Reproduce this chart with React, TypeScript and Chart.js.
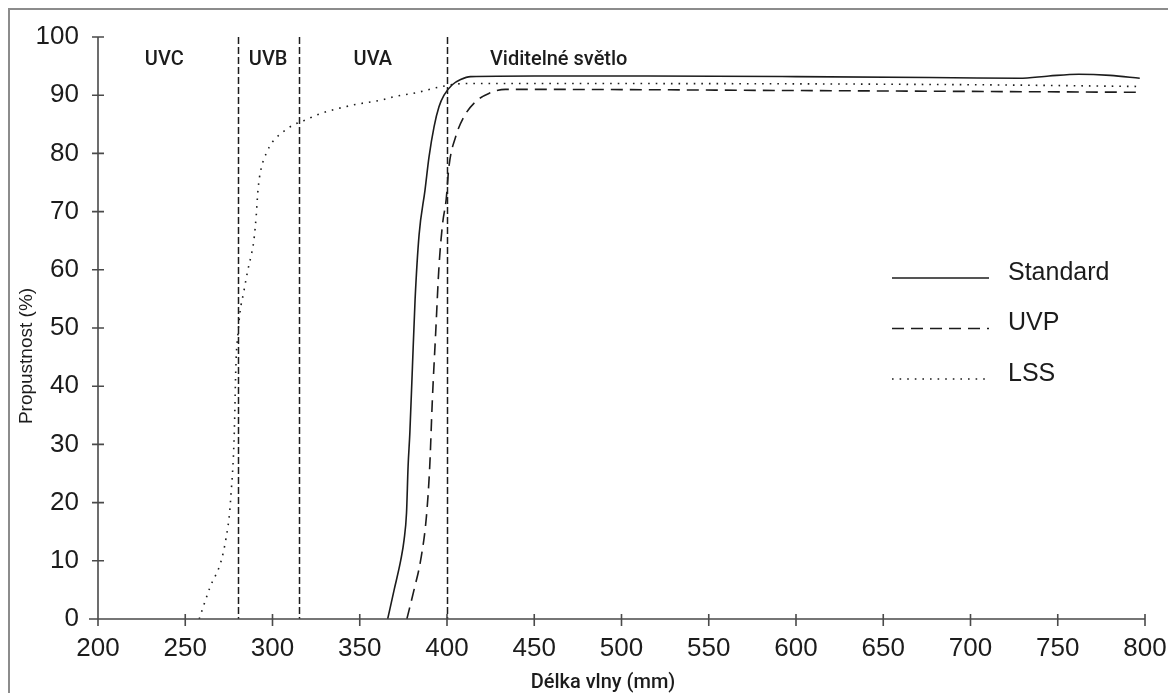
import React, { useEffect, useRef } from "react";
import { Chart, registerables } from "chart.js";

Chart.register(...registerables);

// ---- data ----
const standardNm = [366, 369.7, 373.5, 375.4, 376.8, 377.7, 378.7, 380.2, 381.7, 384, 387.4, 389.7, 392.6, 395.4, 398.3, 403, 407.8, 413.5, 450, 515, 600, 690, 728, 745, 762, 780, 797];
const standardPct = [0, 5, 10.1, 13.6, 18.2, 26.2, 31.9, 43.4, 54.8, 66, 73.7, 79.4, 84.6, 88, 90, 91.8, 92.7, 93.2, 93.3, 93.3, 93.2, 93.0, 92.9, 93.3, 93.6, 93.4, 92.9];

const uvpNm = [377, 381.1, 384.9, 388.2, 390.1, 391.6, 393.5, 395.4, 397.5, 399.5, 401.1, 405, 409.7, 416.4, 424, 433.5, 450, 600, 797];
const uvpPct = [0, 5, 10.1, 17.6, 26.2, 37.6, 49.1, 60.5, 68, 72, 77.7, 82.9, 86.3, 88.9, 90.3, 91, 91, 90.8, 90.5];

const lssNm = [258, 264, 270.7, 273.5, 275.4, 276.4, 277.3, 277.9, 278.3, 278.7, 279.2, 280.2, 281.5, 283.4, 285.9, 287.8, 289.3, 290.7, 291.6, 292.6, 293.5, 294.9, 296.4, 298.3, 301.1, 304.4, 307.8, 312, 315.8, 320.2, 324.4, 345.9, 363, 369, 382, 397, 410, 500, 700, 797];
const lssPct = [0, 5.3, 10.1, 14.1, 18.2, 22.2, 26.2, 30.2, 34.2, 39.9, 45, 49, 53, 56, 60, 62.5, 65, 69.4, 73.4, 76, 77.4, 78.9, 80, 81.2, 82.4, 83.3, 84.1, 84.9, 85.4, 85.9, 86.5, 88.3, 89.2, 89.7, 90.4, 91.5, 92, 92, 91.8, 91.5];

const seriesLabels = ["Standard", "UVP", "LSS"];

const bandBoundariesNm = [280, 315, 400];
const bandNames = ["UVC", "UVB", "UVA", "Viditelné světlo"];
const bandLabelNm = [238, 297.5, 357.5, 464];
const bandLabelPct = 96;

const xMin = 200;
const xMax = 800;
const xStep = 50;
const yMin = 0;
const yMax = 100;
const yStep = 10;

const xTitle = "Délka vlny (mm)";
const yTitle = "Propustnost (%)";

// ---- styles ----
const INK = "#1c1c1c";
const AXIS = "#4a4a4a";
const TICK_FONT = "'Liberation Sans', Arial, sans-serif";
const LABEL_FONT = "Roboto, 'Liberation Sans', Arial, sans-serif";
const TITLE_FONT = "'Liberation Sans', Arial, sans-serif";

const toPoints = (xs: number[], ys: number[]) => xs.map((x, i) => ({ x, y: ys[i] }));

const decorPlugin = {
  id: "decor",
  afterDatasetsDraw(chart: any) {
    const { ctx, chartArea: ca } = chart;
    const x = chart.scales.x;
    const y = chart.scales.y;
    ctx.save();

    // band boundaries
    ctx.strokeStyle = INK;
    ctx.lineWidth = 1.5;
    ctx.setLineDash([7, 3]);
    for (const b of bandBoundariesNm) {
      const px = Math.round(x.getPixelForValue(b)) + 0.5;
      ctx.beginPath();
      ctx.moveTo(px, y.getPixelForValue(yMax));
      ctx.lineTo(px, y.getPixelForValue(yMin));
      ctx.stroke();
    }
    ctx.setLineDash([]);

    // axes
    ctx.strokeStyle = AXIS;
    ctx.lineWidth = 1.6;
    ctx.beginPath();
    ctx.moveTo(ca.left, y.getPixelForValue(yMax));
    ctx.lineTo(ca.left, ca.bottom);
    ctx.moveTo(ca.left - 9, ca.bottom);
    ctx.lineTo(ca.right, ca.bottom);
    for (const t of x.ticks) {
      const px = x.getPixelForValue(t.value);
      ctx.moveTo(px, ca.bottom - 5);
      ctx.lineTo(px, ca.bottom + 7);
    }
    for (const t of y.ticks) {
      const py = y.getPixelForValue(t.value);
      ctx.moveTo(ca.left - 6, py);
      ctx.lineTo(ca.left + 6, py);
    }
    ctx.stroke();

    // band labels
    ctx.fillStyle = INK;
    ctx.font = `500 20px ${LABEL_FONT}`;
    ctx.textAlign = "center";
    ctx.textBaseline = "middle";
    bandNames.forEach((name, i) => {
      ctx.fillText(name, x.getPixelForValue(bandLabelNm[i]), y.getPixelForValue(bandLabelPct));
    });

    // legend
    chart.data.datasets.forEach((ds: any, i: number) => {
      const ly = ca.top + 241 + i * 50.5;
      ctx.strokeStyle = INK;
      ctx.lineWidth = ds.borderWidth;
      ctx.setLineDash(ds.borderDash || []);
      ctx.beginPath();
      ctx.moveTo(ca.right - 253, ly);
      ctx.lineTo(ca.right - 156, ly);
      ctx.stroke();
      ctx.setLineDash([]);
      ctx.font = `25px ${TICK_FONT}`;
      ctx.textAlign = "left";
      ctx.textBaseline = "middle";
      ctx.fillText(ds.label, ca.right - 137, ly - 5);
    });

    // axis titles
    ctx.font = `19px ${TITLE_FONT}`;
    ctx.textAlign = "center";
    ctx.textBaseline = "middle";
    ctx.save();
    ctx.translate(ca.left - 71, ca.top + 319);
    ctx.rotate(-Math.PI / 2);
    ctx.fillText(yTitle, 0, 0);
    ctx.restore();
    ctx.font = `500 20px ${LABEL_FONT}`;
    ctx.fillText(xTitle, ca.left + 505, ca.bottom + 64);

    ctx.restore();
  },
};

export default function App() {
  const canvasRef = useRef<HTMLCanvasElement | null>(null);

  useEffect(() => {
    document.body.style.margin = "0";
    document.body.style.overflow = "hidden";
    const canvas = canvasRef.current;
    if (!canvas) return;
    const mkDs = (label: string, xs: number[], ys: number[], dash: number[], width: number) => ({
      label,
      data: toPoints(xs, ys),
      borderColor: INK,
      borderWidth: width,
      borderDash: dash,
      pointRadius: 0,
      fill: false,
      cubicInterpolationMode: "monotone" as const,
    });
    const chart = new Chart(canvas, {
      type: "line",
      data: {
        datasets: [
          mkDs(seriesLabels[0], standardNm, standardPct, [], 1.6),
          mkDs(seriesLabels[1], uvpNm, uvpPct, [12, 7], 1.6),
          mkDs(seriesLabels[2], lssNm, lssPct, [1.6, 6], 1.6),
        ],
      },
      options: {
        responsive: false,
        animation: false,
        layout: { padding: { left: 0, right: 23, top: 27, bottom: 0 } },
        plugins: { legend: { display: false }, tooltip: { enabled: false }, title: { display: false } },
        scales: {
          x: {
            type: "linear",
            min: xMin,
            max: xMax,
            grid: { display: false, drawTicks: false },
            border: { display: false },
            ticks: { stepSize: xStep, padding: 14, color: INK, font: { family: TICK_FONT, size: 26 }, maxRotation: 0 },
            afterFit: (s: any) => { s.height = 74; s.paddingLeft = 0; s.paddingRight = 0; },
          },
          y: {
            type: "linear",
            min: yMin,
            max: yMax,
            grid: { display: false, drawTicks: false },
            border: { display: false },
            ticks: { stepSize: yStep, padding: 19, color: INK, font: { family: TICK_FONT, size: 26 } },
            afterFit: (s: any) => { s.width = 88; s.paddingTop = 0; s.paddingBottom = 0; },
          },
        },
      },
      plugins: [decorPlugin],
    });
    return () => chart.destroy();
  }, []);

  return (
    <div style={{ padding: "8px 0 0 8px", width: 1160, height: 685, overflow: "hidden" }}>
      <div style={{ width: 1158, height: 683, borderLeft: "2px solid #8c8c8c", borderTop: "2px solid #8c8c8c", background: "#fff" }}>
        <canvas ref={canvasRef} width={1158} height={683} style={{ display: "block", width: 1158, height: 683 }} />
      </div>
    </div>
  );
}
